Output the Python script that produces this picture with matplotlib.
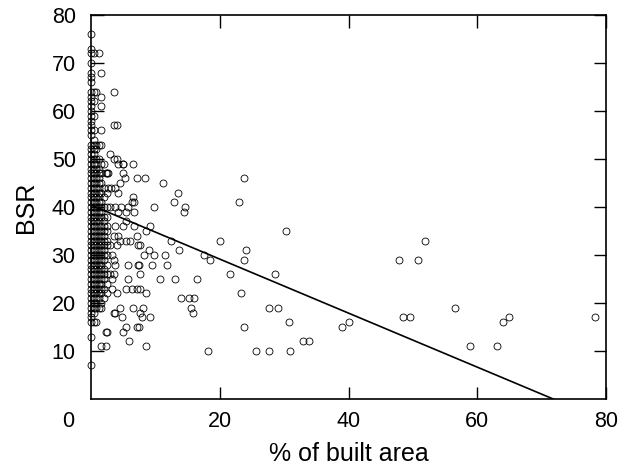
import matplotlib
matplotlib.use("Agg")
import matplotlib.pyplot as plt

# ---- data: dense columns near 0 % built area (x value, BSR values) ----
col_00_x = 0.0
col_00_bsr = [7, 13, 16, 17, 18, 19, 20, 21, 22, 23, 24, 25, 26, 27, 28, 29, 30, 31, 32, 33,
              34, 35, 36, 37, 38, 39, 40, 41, 42, 43, 44, 45, 46, 47, 48, 49, 50, 51, 52, 53,
              55, 56, 57, 58, 59, 60, 61, 62, 63, 64, 66, 67, 68, 70, 72, 73, 76]
col_04_x = 0.4
col_04_bsr = [16, 18, 19, 20, 21, 22, 23, 24, 25, 26, 27, 28, 29, 30, 31, 32, 33, 34, 35, 36,
              37, 38, 39, 40, 41, 42, 43, 44, 45, 46, 47, 48, 49, 50, 51, 52, 53, 54, 56, 59,
              62, 64, 72]
col_08_x = 0.8
col_08_bsr = [16, 19, 20, 21, 22, 23, 24, 25, 26, 27, 28, 29, 30, 31, 32, 33, 34, 35, 36, 37,
              38, 39, 40, 41, 42, 43, 44, 45, 46, 47, 48, 49, 50, 52, 53, 64]
col_12_x = 1.2
col_12_bsr = [19, 21, 22, 23, 24, 25, 26, 27, 28, 29, 30, 31, 32, 33, 34, 35, 36, 37, 38, 39,
              40, 41, 42, 43, 44, 45, 46, 47, 48, 50, 53, 72]
col_16_x = 1.6
col_16_bsr = [11, 19, 20, 22, 23, 24, 25, 26, 27, 28, 29, 30, 31, 32, 33, 34, 35, 36, 38, 39,
              40, 41, 43, 45, 47, 49, 53, 56, 61, 63, 68]
col_20_x = 2.0
col_20_bsr = [21, 23, 25, 26, 27, 29, 30, 31, 32, 33, 34, 35, 36, 37, 38, 40, 42, 44, 49]
col_25_x = 2.5
col_25_bsr = [14, 22, 24, 26, 28, 30, 32, 33, 35, 36, 38, 40, 43, 47]

# ---- data: scattered points ----
mid_pct = [3.5, 3.6, 4.1, 2.9, 4.0, 4.9, 5.0, 6.6, 2.4, 5.0, 5.3, 7.1, 8.4, 4.5, 3.1, 3.7,
           4.2, 6.6, 6.7, 6.3, 3.0, 3.8, 4.7, 5.7, 4.2, 5.5, 6.7, 3.7, 5.5, 6.7, 9.2, 5.0,
           8.5, 7.1, 3.5, 4.2, 4.5, 5.5, 6.1, 7.6, 3.0, 4.0, 7.3, 9.0, 8.3, 3.2, 3.5, 3.8,
           9.4, 7.5, 5.8, 7.3, 7.6, 3.0, 3.6, 5.8, 3.2, 5.5, 6.3, 7.1, 7.6, 8.5, 3.2, 4.0,
           4.5, 4.8, 6.6, 3.6, 8.1, 9.2, 7.6, 7.9, 7.1, 7.5, 5.5, 5.0, 2.3, 5.9, 8.5, 2.4,
           3.7, 3.5, 4.2, 2.7, 2.7, 9.8, 9.8]
mid_bsr = [64, 57, 57, 51, 50, 49, 49, 49, 47, 47, 46, 46, 46, 45, 44, 44,
           43, 42, 41, 41, 40, 40, 40, 40, 39, 39, 39, 36, 37, 36, 36, 36,
           35, 34, 34, 34, 33, 33, 33, 32, 32, 32, 32, 31, 30, 30, 29, 28,
           28, 28, 28, 28, 26, 26, 26, 25, 25, 23, 23, 23, 23, 22, 23, 22,
           19, 17, 19, 18, 19, 17, 18, 17, 15, 15, 15, 14, 14, 12, 11, 11,
           18, 50, 49, 47, 44, 40, 30]

far_pct = [11.2, 13.5, 12.9, 14.6, 14.4, 23.0, 23.8, 12.5, 20.1, 13.7, 11.5, 17.6, 18.5,
           11.8, 10.7, 13.0, 16.4, 14.0, 15.2, 16.0, 15.5, 15.9, 21.6, 18.2, 30.3, 24.1,
           23.7, 28.6, 23.3, 27.7, 29.0, 23.8, 30.8, 25.7, 27.6, 30.9, 33.0, 33.9, 39.0,
           40.1, 47.8, 50.8, 51.9, 48.4, 49.5, 56.6, 58.9, 63.1, 64.0, 64.9, 78.3]
far_bsr = [45, 43, 41, 40, 39, 41, 46, 33, 33, 31, 30, 30, 29,
           28, 25, 25, 25, 21, 21, 21, 19, 18, 26, 10, 35, 31,
           29, 26, 22, 19, 19, 15, 16, 10, 10, 10, 12, 12, 15,
           16, 29, 29, 33, 17, 17, 19, 11, 11, 16, 17, 17]

# regression line
fit_intercept = 40.4
fit_x_at_zero = 71.8

x_ticks = [20, 40, 60, 80]
y_ticks = [10, 20, 30, 40, 50, 60, 70, 80]

plt.rcParams['font.family'] = ['Liberation Sans', 'DejaVu Sans']

fig = plt.figure(figsize=(6.24, 4.65), dpi=100)
ax = fig.add_axes([91 / 624, 1 - 399 / 465, (606 - 91) / 624, (399 - 15) / 465])

xs, ys = [], []
for cx, cy in [(col_00_x, col_00_bsr), (col_04_x, col_04_bsr), (col_08_x, col_08_bsr),
               (col_12_x, col_12_bsr), (col_16_x, col_16_bsr), (col_20_x, col_20_bsr),
               (col_25_x, col_25_bsr)]:
    xs += [cx] * len(cy)
    ys += list(cy)
xs += mid_pct + far_pct
ys += mid_bsr + far_bsr

ax.plot(xs, ys, linestyle='none', marker='o', markersize=5.0, markerfacecolor='none',
        markeredgecolor='black', markeredgewidth=0.6, clip_on=False, zorder=3)

slope = -fit_intercept / fit_x_at_zero
ax.plot([0, 80], [fit_intercept, fit_intercept + slope * 80], color='black', lw=1.2, zorder=2)

ax.set_xlim(0, 80)
ax.set_ylim(0, 80)
ax.set_xticks(x_ticks)
ax.set_yticks(y_ticks)
ax.set_xticklabels([str(t) for t in x_ticks])
ax.set_yticklabels([str(t) for t in y_ticks])
ax.tick_params(direction='in', length=9, width=1.0, labelsize=15.5,
               top=True, right=True)
ax.tick_params(axis='x', pad=8.5)
ax.tick_params(axis='y', pad=11)
for s in ax.spines.values():
    s.set_linewidth(1.2)

ax.annotate('0', xy=(0, 0), xycoords='axes fraction', xytext=(-16.5, -8.5),
            textcoords='offset points', ha='center', va='top', fontsize=15.5)

ax.set_xlabel('% of built area', fontsize=18, labelpad=7)
ax.set_ylabel('BSR', fontsize=18, labelpad=10)

fig.savefig('out.png', dpi=100)
